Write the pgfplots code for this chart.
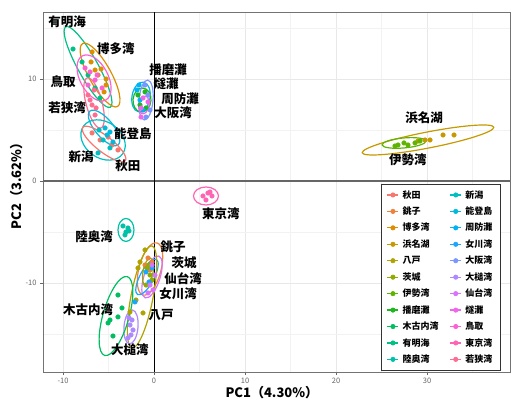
\documentclass[border=0pt]{standalone}
\usepackage{fontspec}
\setmainfont{Noto Sans CJK JP}
\usepackage{pgfplots}
\pgfplotsset{compat=1.18}
\usetikzlibrary{calc}

\definecolor{c01}{HTML}{F8766D}
\definecolor{c02}{HTML}{EC823C}
\definecolor{c03}{HTML}{DB8E00}
\definecolor{c04}{HTML}{C69900}
\definecolor{c05}{HTML}{B0A200}
\definecolor{c06}{HTML}{92AA00}
\definecolor{c07}{HTML}{60B300}
\definecolor{c08}{HTML}{1DB71F}
\definecolor{c09}{HTML}{00BD5F}
\definecolor{c10}{HTML}{00C086}
\definecolor{c11}{HTML}{00C1A7}
\definecolor{c12}{HTML}{00BFC4}
\definecolor{c13}{HTML}{00BADE}
\definecolor{c14}{HTML}{00B3F2}
\definecolor{c15}{HTML}{1AA6FF}
\definecolor{c16}{HTML}{7B96FF}
\definecolor{c17}{HTML}{AD88FF}
\definecolor{c18}{HTML}{D874FC}
\definecolor{c19}{HTML}{F066EA}
\definecolor{c20}{HTML}{FC61D4}
\definecolor{c21}{HTML}{FF63B4}
\definecolor{c22}{HTML}{FF6C92}

\newcommand{\lab}{\bfseries\fontsize{12.5}{14}\selectfont}
% confidence ellipse: colour, centre x, centre y, semi-axes (pt), angle
\newcommand{\ellip}[6]{%
  \draw[#1, line width=1.2pt, rotate around={#6:(axis cs:#2,#3)}]
    (axis cs:#2,#3) ellipse [x radius=#4pt, y radius=#5pt];}

\begin{document}
\begin{tikzpicture}
\begin{axis}[
  name=ax,
  width=467pt, height=360pt, scale only axis,
  xmin=-12.2, xmax=39.12, ymin=-18.73, ymax=16.57,
  xtick={-10,0,10,20,30}, ytick={-10,0,10},
  minor xtick={-5,5,15,25,35}, minor ytick={-15,-5,5,15},
  grid=both,
  major grid style={line width=0.5pt, color=black!9},
  minor grid style={line width=0.3pt, color=black!5},
  tick pos=left, tick align=outside,
  major tick length=3pt, minor tick length=0pt,
  tick style={black!60, line width=0.5pt},
  axis line style={black!55, line width=0.6pt},
  ticklabel style={font=\fontsize{7.5}{8}\selectfont, text=black!60},
  /pgf/number format/assume math mode=true,
  xlabel={PC1（4.30\%）}, ylabel={PC2（3.62\%）},
  label style={font=\bfseries\fontsize{13}{15}\selectfont},
  xlabel style={at={(axis description cs:0.49,-0.058)}, anchor=center},
  ylabel style={at={(axis description cs:-0.0557,0.525)}, anchor=center},
  legend columns=2,
  legend style={at={(0.979,0.522)}, anchor=north east, draw=black!80,
    line width=0.6pt, font=\bfseries\fontsize{9}{10}\selectfont,
    row sep=3.2pt, inner xsep=5.5pt, inner ysep=4pt,
    /tikz/every odd column/.append style={column sep=1.5pt},
    /tikz/every even column/.append style={column sep=9pt}},
  legend cell align=left,
  legend image code/.code={%
    \draw[#1, line width=1.3pt] (0pt,0pt) -- (11pt,0pt);
    \fill[#1] (5.5pt,0pt) circle (2.2pt);},
]
\draw[black!60, line width=1.4pt] (axis cs:-12.2,0) -- (axis cs:39.12,0);
\draw[black, line width=0.7pt] (axis cs:0,-18.73) -- (axis cs:0,16.57);

\pgfplotsset{pts/.style={only marks, mark=*, mark size=2.3pt, forget plot}}
% 秋田
\addplot[pts, c01] coordinates {(-6.81,4.71) (-5.93,4.02) (-5.05,4.31) (-4.62,3.53) (-3.96,3.04)};
% 銚子
\addplot[pts, c02] coordinates {(-0.66,-7.55) (-0.22,-7.94) (-0.44,-8.73) (-0.99,-8.24)};
% 博多湾
\addplot[pts, c03] coordinates {(-6.81,12.65) (-6.92,11.67) (-6.48,10.88) (-5.82,10.98) (-6.15,10.39) (-5.27,10.0) (-5.27,9.41) (-5.49,8.73)};
% 浜名湖
\addplot[pts, c04] coordinates {(29.78,4.02) (30.33,4.02) (31.76,4.51) (32.97,4.51) (29.01,3.92)};
% 八戸
\addplot[pts, c05] coordinates {(-1.21,-12.94) (-2.64,-12.84) (-1.54,-7.94) (-1.76,-8.53) (-0.99,-6.76) (-1.98,-11.67)};
% 茨城
\addplot[pts, c06] coordinates {(-0.77,-8.53) (-0.44,-9.22) (-0.88,-10.20) (-0.22,-9.71) (-0.55,-8.24)};
% 伊勢湾
\addplot[pts, c07] coordinates {(26.48,3.43) (26.81,3.53) (27.47,3.73) (27.91,3.53) (28.68,3.73) (29.23,3.92)};
% 播磨灘
\addplot[pts, c08] coordinates {(-1.76,8.43) (-0.99,8.73) (-1.54,7.45) (-0.88,7.16)};
% 木古内湾
\addplot[pts, c09] coordinates {(-3.96,-11.18) (-3.52,-12.45) (-3.96,-13.33) (-4.84,-13.63) (-5.05,-13.92) (-4.51,-15.20)};
% 有明海
\addplot[pts, c10] coordinates {(-8.90,12.94) (-7.91,11.67) (-7.25,10.39) (-6.48,9.12) (-5.93,8.14)};
% 陸奥湾
\addplot[pts, c11] coordinates {(-3.41,-4.41) (-2.86,-4.61) (-3.08,-5.00) (-3.19,-5.29) (-2.75,-4.90)};
% 新潟
\addplot[pts, c12] coordinates {(-6.15,2.75) (-5.60,4.02) (-6.04,5.0) (-4.84,3.24)};
% 能登島
\addplot[pts, c13] coordinates {(-5.38,5.20) (-5.16,4.51) (-4.51,3.82) (-4.84,4.80)};
% 周防灘
\addplot[pts, c14] coordinates {(-1.87,8.92) (-1.54,7.94) (-1.21,6.96) (-1.65,9.41)};
% 女川湾
\addplot[pts, c15] coordinates {(-2.09,-11.86) (-0.55,-9.90) (-0.88,-8.92) (-0.22,-8.53)};
% 大阪湾
\addplot[pts, c16] coordinates {(-0.99,9.41) (-0.66,8.43) (-0.44,6.96) (-0.88,6.27)};
% 大槌湾
\addplot[pts, c17] coordinates {(-2.42,-13.63) (-2.64,-14.12) (-2.31,-14.61) (-2.53,-15.10) (-2.86,-15.39) (-2.75,-13.43)};
% 仙台湾
\addplot[pts, c18] coordinates {(-0.22,-8.24) (0.11,-9.22) (-0.44,-10.20) (-0.11,-10.69) (-0.66,-10.98)};
% 燧灘
\addplot[pts, c19] coordinates {(-1.21,8.14) (-0.66,7.75) (-1.43,7.16) (-1.43,6.27)};
% 鳥取
\addplot[pts, c20] coordinates {(-7.58,11.08) (-7.03,10.69) (-6.26,10.39) (-7.25,9.41) (-6.48,9.90) (-5.71,9.12)};
% 東京湾
\addplot[pts, c21] coordinates {(5.38,-1.47) (5.93,-1.18) (6.15,-1.08) (5.71,-1.86) (6.37,-1.47)};
% 若狭湾
\addplot[pts, c22] coordinates {(-7.25,8.43) (-6.59,8.92) (-7.03,7.94) (-6.37,7.16) (-6.48,6.47) (-6.81,7.45)};

% ellipses
\ellip{c10}{-7.25}{11.18}{46}{10}{-61}
\ellip{c03}{-5.93}{10.39}{36}{11}{-61}
\ellip{c20}{-6.59}{10.10}{25}{14}{-62}
\ellip{c22}{-6.59}{7.65}{26}{8}{-75}
\ellip{c12}{-5.60}{4.02}{24}{18}{-35}
\ellip{c13}{-5.49}{5.20}{22}{9}{-50}
\ellip{c01}{-5.49}{3.63}{27}{8}{-38}
\ellip{c14}{-1.43}{8.24}{15}{9}{80}
\ellip{c08}{-1.32}{7.94}{12}{9}{85}
\ellip{c16}{-0.88}{7.94}{20}{7}{85}
\ellip{c19}{-1.10}{7.45}{9}{5}{80}
\ellip{c11}{-3.08}{-4.80}{11.5}{8}{90}
\ellip{c21}{5.71}{-1.47}{12.5}{9}{0}
\ellip{c04}{30.11}{4.02}{67}{8}{11}
\ellip{c07}{27.47}{3.73}{22}{5}{5}
\ellip{c02}{-0.44}{-8.63}{27}{11}{75}
\ellip{c18}{-0.22}{-9.41}{22}{8}{72}
\ellip{c15}{-0.77}{-9.41}{20}{7}{62}
\ellip{c06}{-0.66}{-8.92}{14}{5}{80}
\ellip{c05}{-1.32}{-11.37}{52}{11}{79}
\ellip{c17}{-2.53}{-14.31}{17}{7}{85}
\ellip{c09}{-4.18}{-13.24}{41}{13}{74}

% labels
\node[font=\lab] at (axis cs:-9.56,15.59) {有明海};
\node[font=\lab] at (axis cs:-4.18,12.94) {博多湾};
\node[font=\lab] at (axis cs:-10.0,9.71) {鳥取};
\node[font=\lab] at (axis cs:-9.56,7.16) {若狭湾};
\node[font=\lab] at (axis cs:-2.31,4.61) {能登島};
\node[font=\lab] at (axis cs:-8.02,2.35) {新潟};
\node[font=\lab] at (axis cs:-2.86,1.47) {秋田};
\node[font=\lab] at (axis cs:1.54,10.88) {播磨灘};
\node[font=\lab] at (axis cs:1.32,9.51) {燧灘};
\node[font=\lab] at (axis cs:2.86,8.04) {周防灘};
\node[font=\lab] at (axis cs:2.09,6.67) {大阪湾};
\node[font=\lab] at (axis cs:29.67,6.18) {浜名湖};
\node[font=\lab] at (axis cs:27.91,2.06) {伊勢湾};
\node[font=\lab] at (axis cs:7.36,-3.24) {東京湾};
\node[font=\lab] at (axis cs:-6.59,-5.49) {陸奥湾};
\node[font=\lab] at (axis cs:2.09,-6.47) {銚子};
\node[font=\lab] at (axis cs:3.30,-8.04) {茨城};
\node[font=\lab] at (axis cs:3.19,-9.61) {仙台湾};
\node[font=\lab] at (axis cs:2.64,-11.08) {女川湾};
\node[font=\lab] at (axis cs:-7.25,-12.65) {木古内湾};
\node[font=\lab] at (axis cs:0.77,-13.14) {八戸};
\node[font=\lab] at (axis cs:-2.64,-16.57) {大槌湾};

% legend, two columns filled column-wise
\addlegendimage{c01}\addlegendentry{秋田}
\addlegendimage{c12}\addlegendentry{新潟}
\addlegendimage{c02}\addlegendentry{銚子}
\addlegendimage{c13}\addlegendentry{能登島}
\addlegendimage{c03}\addlegendentry{博多湾}
\addlegendimage{c14}\addlegendentry{周防灘}
\addlegendimage{c04}\addlegendentry{浜名湖}
\addlegendimage{c15}\addlegendentry{女川湾}
\addlegendimage{c05}\addlegendentry{八戸}
\addlegendimage{c16}\addlegendentry{大阪湾}
\addlegendimage{c06}\addlegendentry{茨城}
\addlegendimage{c17}\addlegendentry{大槌湾}
\addlegendimage{c07}\addlegendentry{伊勢湾}
\addlegendimage{c18}\addlegendentry{仙台湾}
\addlegendimage{c08}\addlegendentry{播磨灘}
\addlegendimage{c19}\addlegendentry{燧灘}
\addlegendimage{c09}\addlegendentry{木古内湾}
\addlegendimage{c20}\addlegendentry{鳥取}
\addlegendimage{c10}\addlegendentry{有明海}
\addlegendimage{c21}\addlegendentry{東京湾}
\addlegendimage{c11}\addlegendentry{陸奥湾}
\addlegendimage{c22}\addlegendentry{若狭湾}
\end{axis}
\path ($(ax.south west)+(-43pt,-33pt)$) rectangle ($(ax.north east)+(1pt,12pt)$);
\end{tikzpicture}
\end{document}
